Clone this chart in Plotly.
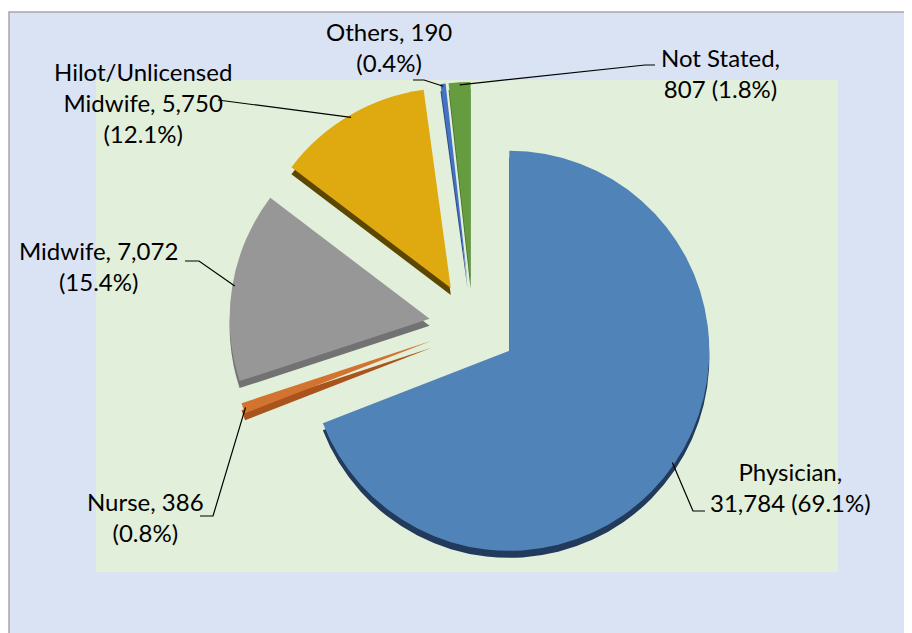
import math
import plotly.graph_objects as go

# ---- data ----
categories = ["Physician", "Nurse", "Midwife", "Hilot/Unlicensed Midwife", "Others", "Not Stated"]
values = [31784, 386, 7072, 5750, 190, 807]
pct_labels = ["69.1%", "0.8%", "15.4%", "12.1%", "0.4%", "1.8%"]

# ---- styling / layout ----
W, H = 912, 633
OFF = 8                            # page body margin
face_colors = ["#5083b8", "#d2742f", "#979797", "#dfaa0f", "#4472c4", "#659c40"]
side_colors = ["#223a5c", "#a8541c", "#727272", "#5c4600", "#2b4a85", "#456f2b"]
PULL = 0.22
CX, CY, R = 473, 326, 200          # pie centre / radius in screen pixels
DEPTH = 7                          # 3-D thickness in pixels
FONT = "Lato, Calibri, sans-serif"
FS = 24

label_fmt = [
    "{c},<br>{v} ({p})",
    "{c}, {v}<br>({p})",
    "{c}, {v}<br>({p})",
    "{cbr}, {v}<br>({p})",
    "{c}, {v}<br>({p})",
    "{c},<br>{v} ({p})",
]
# label text centre (screen px) and leader polyline start points (screen px)
label_pos = [(790, 487), (145, 517), (98, 266), (143, 103), (389, 47), (720, 73)]
leader_pts = [
    [(705, 511), (693, 511)],
    [(200, 516), (213, 516)],
    [(185, 261), (199, 261)],
    [(218, 100)],
    [(413, 80), (424, 80)],
    [(655, 65), (645, 65)],
]


def px(x):
    return (x - OFF) / W


def py(y):
    return 1 - (y - OFF) / H


half = R * (1 + PULL)
dom_x = [px(CX - half), px(CX + half)]
dom_y = [py(CY + half), py(CY - half)]
dom_y_shadow = [py(CY + half + DEPTH), py(CY - half + DEPTH)]

fig = go.Figure()
common = dict(
    values=values, labels=categories, sort=False, direction="clockwise",
    rotation=0, pull=[PULL] * len(values), textinfo="none",
    hoverinfo="label+value", showlegend=False,
)
fig.add_trace(go.Pie(domain=dict(x=dom_x, y=dom_y_shadow),
                     marker=dict(colors=side_colors, line=dict(width=0)), **common))
fig.add_trace(go.Pie(domain=dict(x=dom_x, y=dom_y),
                     marker=dict(colors=face_colors, line=dict(width=0)), **common))

shapes = [
    dict(type="rect", xref="paper", yref="paper", x0=px(9), x1=px(W + 40),
         y0=py(H + 40), y1=py(12), fillcolor="#dae3f3",
         line=dict(color="#a6a6a6", width=1.5), layer="below"),
    dict(type="rect", xref="paper", yref="paper", x0=px(96), x1=px(838),
         y0=py(572), y1=py(80), fillcolor="#e2efda", line=dict(width=0), layer="below"),
]

annotations = []
total = sum(values)
cum = 0
for i, v in enumerate(values):
    mid = (cum + v / 2) / total * 2 * math.pi
    cum += v
    dx, dy = math.sin(mid), -math.cos(mid)
    ax = CX + dx * R * (1 + PULL) * 0.99
    ay = CY + dy * R * (1 + PULL) * 0.99
    pts = leader_pts[i] + [(ax, ay)]
    path = "M " + " L ".join(f"{px(x):.5f},{py(y):.5f}" for x, y in pts)
    shapes.append(dict(type="path", xref="paper", yref="paper", path=path,
                       line=dict(color="black", width=1.2), layer="above"))
    c = categories[i]
    text = label_fmt[i].format(c=c, cbr=c.replace(" ", "<br>", 1), v=f"{v:,}", p=pct_labels[i])
    lx, ly = label_pos[i]
    annotations.append(dict(x=px(lx), y=py(ly), xref="paper", yref="paper",
                            text=text, showarrow=False, align="center",
                            xanchor="center", yanchor="middle",
                            font=dict(family=FONT, size=FS, color="black")))

fig.update_layout(
    width=W, height=H, autosize=False,
    margin=dict(l=0, r=0, t=0, b=0),
    paper_bgcolor="white", plot_bgcolor="white",
    shapes=shapes, annotations=annotations,
)
fig.write_html("out.html")
